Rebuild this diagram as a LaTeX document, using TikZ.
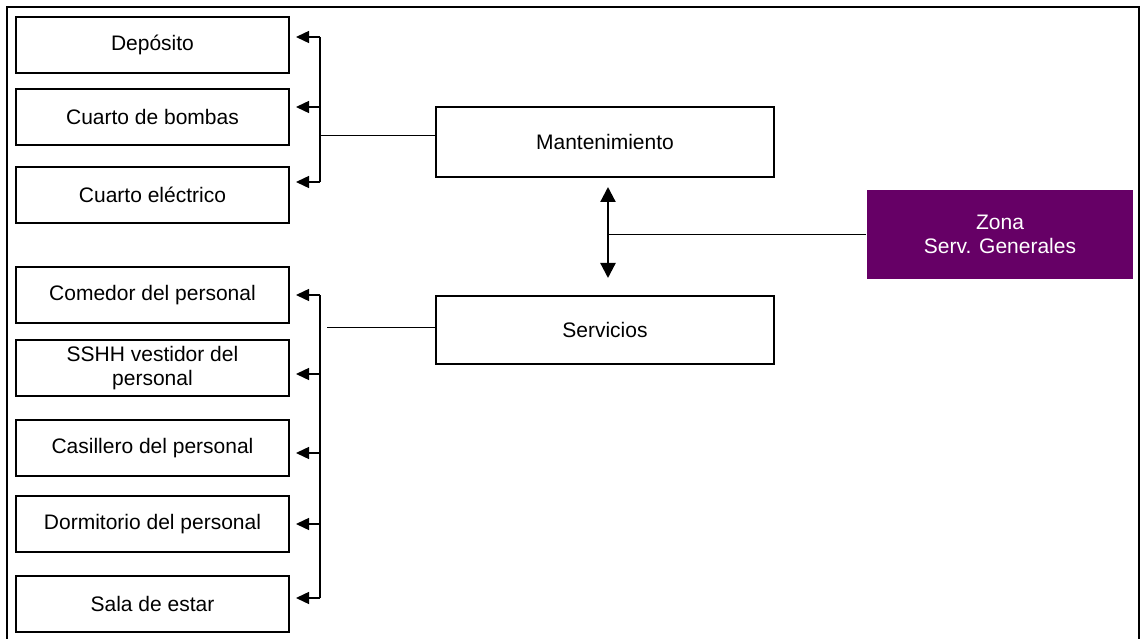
\documentclass[tikz,border=0pt]{standalone}
\usepackage{fontspec}
\setmainfont{Liberation Sans}
\usetikzlibrary{arrows.meta, positioning}
\definecolor{zonapurple}{HTML}{660066}

\begin{document}
\begin{tikzpicture}[
        x=1pt, y=-1pt,
        >={Triangle[length=13pt,width=12pt]},
        node distance=16pt,
        box/.style={
            rectangle, draw=black, line width=2pt, fill=white,
            inner sep=0pt, align=center, font=\fontsize{21}{24}\selectfont,
            minimum width=273pt, minimum height=56pt
        },
        arrow/.style={->, line width=1.4pt, color=black},
        bidir/.style={{Triangle[length=15pt,width=15pt]}-{Triangle[length=15pt,width=15pt]}, line width=2.2pt, color=black},
        link/.style={line width=1pt, color=black},
        bus/.style={line width=1.4pt, color=black}
    ]
    \useasboundingbox (0,0) rectangle (1141,639);

    % --- Frame ---
    \draw[line width=2pt] (6.5,645) -- (6.5,7.5) -- (1139,7.5) -- (1139,645);

    % --- Nodes ---
    \node[box] (dep) at (152.5,45) {Depósito};
    \node[box, below=14pt of dep] (bom) {Cuarto de bombas};
    \node[box, below=20pt of bom] (ele) {Cuarto eléctrico};

    \node[box] (com) at (152.5,295) {Comedor del personal};
    \node[box, below=15pt of com] (ssh) {SSHH vestidor del\\personal};
    \node[box, below=22pt of ssh] (cas) {Casillero del personal};
    \node[box, below=18pt of cas] (dor) {Dormitorio del personal};
    \node[box, below=22pt of dor] (sal) {Sala de estar};

    \node[box, minimum width=338pt, minimum height=70pt] (mant) at (605,142) {Mantenimiento};
    \node[box, minimum width=338pt, minimum height=68pt] (serv) at (605,330) {Servicios};

    \node[box, draw=none, fill=zonapurple, text=white, minimum width=266pt, minimum height=89pt] (zona) at (1000,234.5) {Zona\\Serv. Generales};

    % --- Connections ---
    \coordinate (ubus) at (320,0);

    \foreach \n/\s in {dep/8, bom/10, ele/13, com/0, ssh/-6, cas/-5, dor/0, sal/6}
        \draw[arrow] ([yshift=\s pt]\n.east -| ubus) -- ([xshift=6pt, yshift=\s pt]\n.east);

    \draw[bus] ([yshift=8pt]dep.east -| ubus) -- ([yshift=13pt]ele.east -| ubus);
    \draw[bus] (com.east -| ubus) -- ([yshift=6pt]sal.east -| ubus);

    \draw[link] ([yshift=6pt]mant.west) -- ([yshift=6pt]mant.west -| ubus);
    \draw[link] ([yshift=3pt]serv.west) -- ([xshift=7pt, yshift=3pt]serv.west -| ubus);

    \draw[bidir, shorten <=9pt, shorten >=17pt] ([xshift=3pt]mant.south) -- ([xshift=3pt]serv.north);
    \draw[link] (zona.west) -- ([xshift=3pt]zona.west -| mant.south);

\end{tikzpicture}
\end{document}
